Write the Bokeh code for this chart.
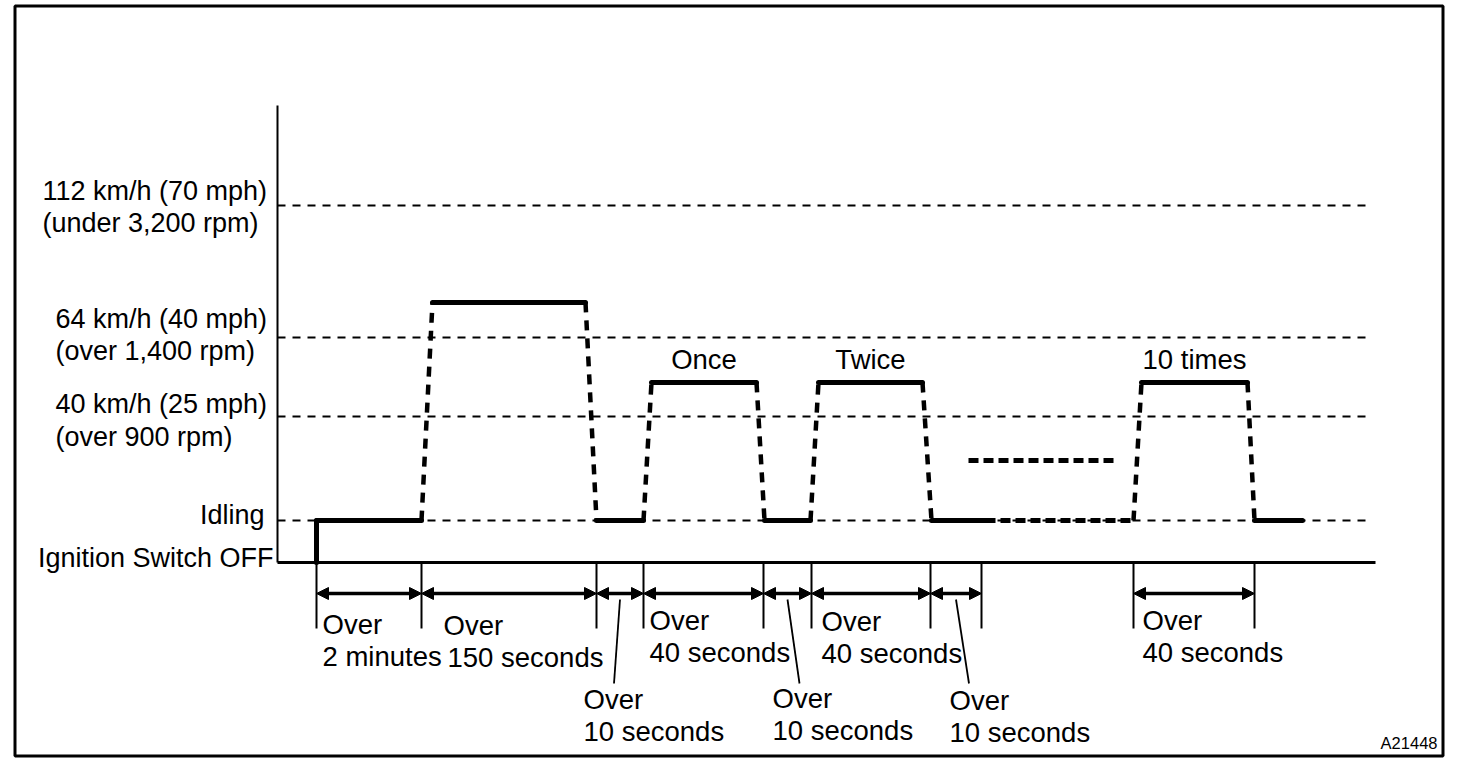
from bokeh.plotting import figure
from bokeh.models import Range1d, ColumnDataSource, Arrow, NormalHead
from bokeh.embed import file_html
from bokeh.resources import INLINE
from bokeh.core.properties import value

# ---------------- data (schematic units) ----------------
# height above "Ignition Switch OFF" for each speed level
level_line1 = ["Ignition Switch OFF", "Idling", "40 km/h (25 mph)", "64 km/h (40 mph)", "112 km/h (70 mph)"]
level_line2 = ["", "", "(over 900 rpm)", "(over 1,400 rpm)", "(under 3,200 rpm)"]
level_height = [0, 42, 146, 225, 357]

# driving pattern: vertices (time, height) and kind of each segment between them
profile_t = [39, 39, 144, 155, 308, 319, 366, 374, 479, 487, 533, 541, 645, 654, 708, 856, 864, 970, 977, 1025]
profile_v = [0, 42, 42, 260, 260, 42, 42, 180, 180, 42, 42, 180, 180, 42, 42, 42, 180, 180, 42, 42]
profile_kind = ["hold", "hold", "ramp", "hold", "ramp", "hold", "ramp", "hold", "ramp",
                "hold", "ramp", "hold", "ramp", "hold", "repeat", "ramp", "hold", "ramp", "hold"]

# repeated cycles indicator (dashed line between 2nd and 10th cycle)
repeat_t = [691, 836]
repeat_v = [102, 102]

# cycle labels and index of the start of their top hold segment
cycle_labels = ["Once", "Twice", "10 times"]
cycle_hold_start = [7, 11, 16]

# time spans below the axis
span_start = [39, 144, 319, 366, 486, 534, 653, 856]
span_end = [144, 319, 366, 486, 534, 653, 704, 977]
span_line1 = ["Over", "Over", "Over", "Over", "Over", "Over", "Over", "Over"]
span_line2 = ["2 minutes", "150 seconds", "10 seconds", "40 seconds",
              "10 seconds", "40 seconds", "10 seconds", "40 seconds"]

figure_id = "A21448"

# ---------------- layout (page pixels) ----------------
X0, Y0 = 277, 562          # page position of the axes origin
W, H = 1456, 758


def dx(px):
    return px - X0


def dy(py):
    return Y0 - py


FONT = value("Liberation Sans")
FS = "27.5px"

p = figure(width=W, height=H,
           x_range=Range1d(dx(0), dx(W)), y_range=Range1d(dy(H), dy(0)),
           min_border=0, toolbar_location=None, output_backend="svg")
p.axis.visible = False
p.grid.visible = False
p.outline_line_color = None
p.background_fill_color = "white"
p.border_fill_color = "white"

# frame box
p.quad(left=dx(14.5), right=dx(1442.5), top=dy(5.5), bottom=dy(755.5),
       fill_color=None, line_color="black", line_width=3)

# dashed level lines
lv = level_height[1:]
p.segment(x0=[0] * len(lv), x1=[dx(1370)] * len(lv), y0=lv, y1=lv,
          line_color="black", line_width=2, line_dash="8 7")

# axes
p.segment(x0=[0], y0=[0], x1=[0], y1=[dy(105)], line_color="black", line_width=2)
p.segment(x0=[0], y0=[0], x1=[dx(1375)], y1=[0], line_color="black", line_width=3)

# driving profile
segs = {"hold": ([], [], [], []), "ramp": ([], [], [], []), "repeat": ([], [], [], [])}
for i, k in enumerate(profile_kind):
    a = segs[k]
    a[0].append(profile_t[i]); a[1].append(profile_v[i])
    a[2].append(profile_t[i + 1]); a[3].append(profile_v[i + 1])

h = segs["hold"]
p.segment(x0=h[0], y0=h[1], x1=h[2], y1=h[3], line_color="black", line_width=5, line_cap="round")
r = segs["ramp"]
p.segment(x0=r[0], y0=r[1], x1=r[2], y1=r[3], line_color="black", line_width=4.5,
          line_dash="10 8", line_cap="butt")
rp = segs["repeat"]
p.segment(x0=rp[0], y0=rp[1], x1=rp[2], y1=rp[3], line_color="black", line_width=5,
          line_dash="10 5")
p.line(repeat_t, repeat_v, line_color="black", line_width=5, line_dash="10 5")

# cycle labels (y given as visual centre of capitals)
cx = [(profile_t[i] + profile_t[i + 1]) / 2 for i in cycle_hold_start]
cy = [profile_v[i] + 23 for i in cycle_hold_start]
p.text(x=cx, y=cy, text=cycle_labels, text_font=FONT, text_font_size=FS,
       text_align="center", text_baseline="alphabetic", text_color="black")

# time ticks
ticks = sorted(set(span_start + span_end))
p.segment(x0=ticks, y0=[0] * len(ticks), x1=ticks, y1=[dy(628)] * len(ticks),
          line_color="black", line_width=2)

# double arrows
arrow_y = dy(593)
src = ColumnDataSource(dict(x0=span_start, x1=span_end,
                            y0=[arrow_y] * len(span_start), y1=[arrow_y] * len(span_start)))
p.add_layout(Arrow(start=NormalHead(size=12, fill_color="black", line_color="black"),
                   end=NormalHead(size=12, fill_color="black", line_color="black"),
                   x_start="x0", y_start="y0", x_end="x1", y_end="y1",
                   source=src, line_color="black", line_width=3.5))

# span labels (x of line 1, y of line 1, x of line 2, y of line 2)
label_layout = [(322, 624, 322, 656), (443, 625, 447, 657), (583, 699, 583, 731),
                (649, 620, 649, 652), (772, 698, 772, 730), (821, 621, 821, 653),
                (949, 700, 949, 732), (1142, 620, 1142, 652)]
p.text(x=[dx(l[0]) for l in label_layout], y=[dy(l[1]) for l in label_layout], text=span_line1,
       text_font=FONT, text_font_size=FS, text_align="left", text_baseline="alphabetic")
p.text(x=[dx(l[2]) for l in label_layout], y=[dy(l[3]) for l in label_layout], text=span_line2,
       text_font=FONT, text_font_size=FS, text_align="left", text_baseline="alphabetic")

# pointer lines for short spans (labels placed lower)
short = [i for i in range(len(span_start)) if span_line2[i] == "10 seconds"]
ptr_dx = [-6, 12, 13]
mids = [(span_start[i] + span_end[i]) / 2 for i in short]
p.segment(x0=mids, y0=[dy(599)] * len(mids), x1=[m + d for m, d in zip(mids, ptr_dx)],
          y1=[dy(683)] * len(mids), line_color="black", line_width=1.8)

# level labels
LFS = "27px"
lab_left = [(42, 190, 222), (55, 318, 350), (55, 403, 436)]  # for 112, 64, 40
for (lx, b1, b2), idx in zip(lab_left, [4, 3, 2]):
    p.text(x=[dx(lx), dx(lx)], y=[dy(b1), dy(b2)], text=[level_line1[idx], level_line2[idx]],
           text_font=FONT, text_font_size=LFS, text_align="left", text_baseline="alphabetic")
p.text(x=[dx(264)], y=[dy(514)], text=[level_line1[1]], text_font=FONT, text_font_size=LFS,
       text_align="right", text_baseline="alphabetic")
p.text(x=[dx(273)], y=[dy(557)], text=[level_line1[0]], text_font=FONT, text_font_size=LFS,
       text_align="right", text_baseline="alphabetic")

# figure id
p.text(x=[dx(1437)], y=[dy(742)], text=[figure_id], text_font=FONT, text_font_size="16.5px",
       text_align="right", text_baseline="alphabetic")

open("out.html", "w").write(file_html(p, INLINE))
